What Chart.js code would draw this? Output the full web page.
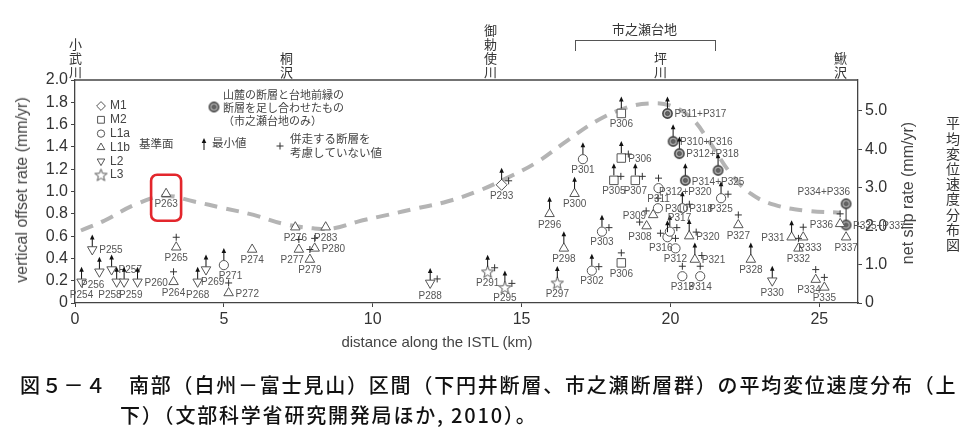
<!DOCTYPE html>
<html lang="ja">
<head>
<meta charset="UTF-8">
<title>平均変位速度分布</title>
<style>
  body { margin: 0; background: #fff; }
  #wrap { position: relative; width: 975px; height: 438px; overflow: hidden; }
  #wrap canvas { position: absolute; left: 0; top: 0; }
  .txt { position: absolute; white-space: nowrap; color: #333; }
  .en { font-family: "Liberation Sans", Arial, sans-serif; font-size: 16px; color: #444; }
  .jp { font-family: "Noto Sans CJK JP", sans-serif; }
  .vt { writing-mode: vertical-rl; font-size: 13px; letter-spacing: 1px; line-height: 13px; }
  .cap { font-size: 20px; letter-spacing: 1.8px; line-height: 26px; font-weight: 500; color: #111; }
  #bracket { position: absolute; left: 575px; top: 40px; width: 139px; height: 10px;
             border: 1px solid #555; border-bottom: none; }
</style>
</head>
<body>
<div id="wrap">
  <canvas id="rateChart"></canvas>

  <div class="txt jp vt" style="left:69px; top:38px">小武川</div>
  <div class="txt jp vt" style="left:280px; top:52px">桐沢</div>
  <div class="txt jp vt" style="left:484px; top:24px">御勅使川</div>
  <div class="txt jp vt" style="left:654px; top:52px">坪川</div>
  <div class="txt jp vt" style="left:834px; top:52px">鰍沢</div>
  <div class="txt jp" style="left:612px; top:19px; font-size:13px">市之瀬台地</div>
  <div id="bracket"></div>

  <div class="txt en" style="left:22px; top:190px; transform:translate(-50%,-50%) rotate(-90deg)">vertical offset rate (mm/yr)</div>
  <div class="txt en" style="left:908px; top:193px; transform:translate(-50%,-50%) rotate(-90deg)">net slip rate (mm/yr)</div>
  <div class="txt en" style="left:437px; top:341px; font-size:15px; transform:translate(-50%,-50%)">distance along the ISTL (km)</div>
  <div class="txt jp vt" style="left:946px; top:116px; font-size:14px; letter-spacing:1.2px; line-height:14px">平均変位速度分布図</div>

  <div class="txt jp cap" style="left:20px; top:372px">図５－４　南部（白州－富士見山）区間（下円井断層、市之瀬断層群）の平均変位速度分布（上</div>
  <div class="txt jp cap" style="left:120px; top:402px">下）（文部科学省研究開発局ほか, 2010）。</div>
</div>

<script src="https://cdn.jsdelivr.net/npm/chart.js"></script>
<script>
// survey sites (distance km, vertical offset rate mm/yr)
const sites = ['P254','P255','P256','P257','P258','P259','P260','P263','P264','P265',
  'P268','P269','P271','P272','P274','P276','P277','P279','P280','P283',
  'P288','P291','P293','P295','P296','P297','P298','P300','P301','P302',
  'P303','P305','P306','P306','P306','P307','P308','P309','P310','P311',
  'P312','P313','P314','P316','P317','P318','P320','P321','P325','P327',
  'P328','P330','P331','P332','P333','P334','P335','P336','P337'];
const dist = [0.22,0.58,0.82,1.23,1.40,1.65,2.10,3.06,3.31,3.40,
  4.12,4.40,5.00,5.16,5.95,7.40,7.52,7.89,8.05,8.42,
  11.93,13.86,14.33,14.44,15.94,16.20,16.42,16.78,17.06,17.36,
  17.70,18.10,18.35,18.35,18.35,18.82,19.20,19.42,19.58,19.60,
  20.17,20.40,21.00,19.90,19.98,20.40,20.63,20.82,21.70,22.28,
  22.70,23.42,24.07,24.30,24.46,24.88,25.17,25.70,25.90];
const rate = [0.19,0.48,0.28,0.30,0.19,0.19,0.19,0.98,0.19,0.50,
  0.19,0.30,0.34,0.09,0.48,0.68,0.48,0.39,0.49,0.68,
  0.18,0.28,1.06,0.14,0.80,0.18,0.49,0.98,1.29,0.29,
  0.64,1.10,1.70,1.30,0.36,1.10,0.69,0.79,0.85,1.03,
  0.49,0.24,0.24,0.59,0.64,0.85,0.60,0.39,0.94,0.70,
  0.39,0.20,0.59,0.49,0.59,0.21,0.14,0.71,0.59];
const surf = ['L2','L2','L2','L2','L2','L2','L2','L1b','L1b','L1b',
  'L2','L2','L1a','L1b','L1b','L1b','L1b','L1b','L1b','L1b',
  'L2','L3','M1','L3','L1b','L3','L1b','L1b','L1a','L1a',
  'L1a','M2','M2','M2','M2','M2','L1b','L1b','L1a','L1a',
  'L1a','L1a','L1a','L1a','L1a','L1a','L1b','L1b','L1a','L1b',
  'L1b','L2','L1b','L1b','L1b','L1b','L1b','L1b','L1b'];
// 1 = minimum value (arrow)
const minVal = [1,1,1,1,1,1,1,0,0,0,
  1,1,1,0,0,0,0,0,0,0,
  1,1,1,1,1,1,1,1,1,1,
  1,1,1,1,0,1,0,0,0,0,
  0,0,0,1,1,1,1,1,1,0,
  1,1,1,0,0,0,0,0,0];
// parallel fault not considered (+), and where the + sits
const plusAt = ['','','','','','','','','a','a',
  '','','','a','','','a','a','a','',
  'r','r','r','r','','','','','','r',
  'r','r','','r','a','r','l','l','a','a',
  'a','a','a','l','r','r','r','r','r','a',
  '','','','a','a','a','a','a',''];
const labelAt = ['b','r','bl','r','bl','br','r','b','b','b',
  'b','br','br','r','b','b','bl','b','r','b',
  'b','b','b','b','b','b','b','b','b','b',
  'b','b','b','r','b','b','bl','l','r','b',
  'b','b','b','bl','a','r','r','r','b','b',
  'b','b','l','b','br','bl','b','l','b'];

// summed piedmont + terrace-front faults (Ichinose upland only)
const comboSites = ['P311+P317','P310+P316','P312+P318','P312+P320','P314+P325','P334+P336','P335+P337'];
const comboDist = [19.90,20.09,20.30,20.50,21.60,25.90,25.90];
const comboRate = [1.70,1.45,1.34,1.10,1.19,0.89,0.70];
const comboMin = [1,1,1,1,1,0,0];
const comboLabelAt = ['r','r','r','b','b','al','r'];

// dashed trend curve
const trendKm = [0.2,1,2,3,4,5,6,7,8,8.7,9.5,10.5,11.5,12.5,13.5,14.5,15.5,16.5,17.5,18.5,19.3,20,20.7,21.3,22,22.7,23.5,24.5,25.7];
const trendRate = [0.65,0.74,0.88,0.96,0.91,0.85,0.79,0.71,0.67,0.67,0.73,0.79,0.85,0.91,1.00,1.12,1.26,1.45,1.63,1.75,1.79,1.77,1.66,1.45,1.17,0.98,0.88,0.83,0.81];

const surfaces = ['M1','M2','L1a','L1b','L2','L3'];
const xTicks = [0,5,10,15,20,25];
const yTicks = [0,0.2,0.4,0.6,0.8,1.0,1.2,1.4,1.6,1.8,2.0];
const y2Ticks = [0,1,2,3,4,5];

Chart.defaults.font.family = '"Liberation Sans", Arial, sans-serif';

function makeStar() {
  const c = document.createElement('canvas');
  c.width = 15; c.height = 15;
  const g = c.getContext('2d');
  g.beginPath();
  for (let k = 0; k < 10; k++) {
    const r = k % 2 ? 2.7 : 6.4;
    const a = -Math.PI / 2 + k * Math.PI / 5;
    g.lineTo(7.5 + r * Math.cos(a), 8 + r * Math.sin(a));
  }
  g.closePath();
  g.fillStyle = '#fff'; g.fill();
  g.strokeStyle = '#555'; g.lineWidth = 1; g.stroke();
  return c;
}
function makeCombo() {
  const c = document.createElement('canvas');
  c.width = 13; c.height = 13;
  const g = c.getContext('2d');
  g.beginPath(); g.arc(6.5, 6.5, 4.6, 0, Math.PI * 2);
  g.fillStyle = '#b0b0b0'; g.fill();
  g.strokeStyle = '#444'; g.lineWidth = 1.6; g.stroke();
  g.beginPath(); g.arc(6.5, 6.5, 2, 0, Math.PI * 2);
  g.fillStyle = '#666'; g.fill();
  g.lineWidth = 0.8; g.stroke();
  return c;
}
const starImg = makeStar();
const comboImg = makeCombo();

const marker = {
  M1: { pointStyle: 'rectRot', radius: 5.5, rotation: 0 },
  M2: { pointStyle: 'rect', radius: 6, rotation: 0 },
  L1a: { pointStyle: 'circle', radius: 4.6, rotation: 0 },
  L1b: { pointStyle: 'triangle', radius: 5.5, rotation: 0 },
  L2: { pointStyle: 'triangle', radius: 5.5, rotation: 180 },
  L3: { pointStyle: starImg, radius: 6, rotation: 0 }
};

function drawArrow(ctx, x, yTop) {
  ctx.strokeStyle = '#111'; ctx.fillStyle = '#111'; ctx.lineWidth = 1;
  ctx.beginPath(); ctx.moveTo(x, yTop); ctx.lineTo(x, yTop - 8); ctx.stroke();
  ctx.beginPath();
  ctx.moveTo(x, yTop - 12); ctx.lineTo(x - 2.3, yTop - 7); ctx.lineTo(x + 2.3, yTop - 7);
  ctx.closePath(); ctx.fill();
}
function drawPlus(ctx, x, y) {
  ctx.strokeStyle = '#333'; ctx.lineWidth = 1;
  ctx.beginPath();
  ctx.moveTo(x - 3.5, y); ctx.lineTo(x + 3.5, y);
  ctx.moveTo(x, y - 3.5); ctx.lineTo(x, y + 3.5);
  ctx.stroke();
}
function drawLabel(ctx, text, x, y, at, drop) {
  ctx.fillStyle = '#555';
  ctx.font = '10px "Liberation Sans", Arial, sans-serif';
  const d = drop || 0;
  const spec = {
    b: ['center', 'top', 0, 6 + d], bl: ['right', 'top', 5, 6 + d], br: ['left', 'top', -5, 6 + d],
    r: ['left', 'middle', 7, 1], l: ['right', 'middle', -7, 1],
    a: ['left', 'bottom', -2, -8], al: ['right', 'bottom', 4, -7]
  }[at];
  ctx.textAlign = spec[0]; ctx.textBaseline = spec[1];
  ctx.fillText(text, x + spec[2], y + spec[3]);
}
function drawMarker(ctx, s, x, y, scale) {
  const m = marker[s];
  ctx.fillStyle = '#fff'; ctx.strokeStyle = '#555'; ctx.lineWidth = 1;
  Chart.helpers.drawPoint(ctx, { pointStyle: m.pointStyle, rotation: m.rotation, radius: m.radius * scale, borderWidth: 1 }, x, y);
}

const plusOffset = { a: [0, -10], r: [7, -4], l: [-7, -4] };

const decorations = {
  id: 'decorations',
  afterDatasetsDraw(chart) {
    const { ctx, chartArea: a, scales: { x, y } } = chart;
    ctx.save();
    ctx.strokeStyle = '#444'; ctx.lineWidth = 1.3;
    ctx.beginPath(); ctx.moveTo(a.left, a.top); ctx.lineTo(a.right, a.top); ctx.stroke();

    sites.forEach((s, i) => {
      const px = x.getPixelForValue(dist[i]);
      const py = y.getPixelForValue(rate[i]);
      const top = surf[i] === 'L2' ? 3 : 5;
      if (minVal[i]) drawArrow(ctx, px, py - top);
      if (plusAt[i]) {
        const o = plusOffset[plusAt[i]];
        drawPlus(ctx, px + o[0], py + o[1]);
      }
      drawLabel(ctx, s, px, py, labelAt[i], surf[i] === 'L2' ? 2 : 0);
    });
    comboSites.forEach((s, i) => {
      const px = x.getPixelForValue(comboDist[i]);
      const py = y.getPixelForValue(comboRate[i]);
      if (comboMin[i]) drawArrow(ctx, px, py - 5);
      drawLabel(ctx, s, px, py, comboLabelAt[i], 1);
    });

    // highlight box round P263
    const k = sites.indexOf('P263');
    const hx = x.getPixelForValue(dist[k]), hy = y.getPixelForValue(rate[k]);
    ctx.strokeStyle = '#e3262c'; ctx.lineWidth = 2.6;
    ctx.beginPath(); ctx.roundRect(hx - 15, hy - 19, 30, 46, 6); ctx.stroke();

    // legend
    ctx.textAlign = 'left'; ctx.textBaseline = 'middle';
    surfaces.forEach((s, j) => {
      const ly = 106 + j * 13.8;
      drawMarker(ctx, s, 101, ly, 0.8);
      ctx.fillStyle = '#444';
      ctx.font = '12px "Liberation Sans", Arial, sans-serif';
      ctx.fillText(s, 110, ly);
    });
    ctx.fillStyle = '#444';
    ctx.font = '11.5px "Noto Sans CJK JP", sans-serif';
    ctx.fillText('基準面', 139, 144);
    drawArrow(ctx, 204, 150);
    ctx.fillStyle = '#444';
    ctx.fillText('最小値', 212, 143);
    drawPlus(ctx, 280, 146);
    ctx.fillStyle = '#444';
    ctx.fillText('併走する断層を', 290, 139);
    ctx.fillText('考慮していない値', 290, 153);
    ctx.drawImage(comboImg, 214 - 6.5, 107 - 6.5);
    ctx.font = '11px "Noto Sans CJK JP", sans-serif';
    ctx.fillText('山麓の断層と台地前縁の', 223, 95);
    ctx.fillText('断層を足し合わせたもの', 223, 108);
    ctx.fillText('（市之瀬台地のみ）', 223, 121);
    ctx.restore();
  }
};

const pointSets = surfaces.map(s => ({
  type: 'scatter',
  label: s,
  data: sites.map((p, i) => surf[i] === s ? { x: dist[i], y: rate[i] } : null).filter(Boolean),
  pointStyle: marker[s].pointStyle,
  pointRadius: marker[s].radius,
  pointRotation: marker[s].rotation,
  pointBackgroundColor: '#fff',
  pointBorderColor: '#555',
  pointBorderWidth: 1,
  clip: false,
  order: 0
}));

const link = [comboSites.indexOf('P334+P336'), comboSites.indexOf('P335+P337')];

const datasets = [
  ...pointSets,
  {
    type: 'scatter',
    label: 'combined',
    data: comboSites.map((s, i) => ({ x: comboDist[i], y: comboRate[i] })),
    pointStyle: comboImg,
    pointRadius: 5,
    clip: false,
    order: 0
  },
  {
    type: 'line',
    label: 'link',
    data: link.map(i => ({ x: comboDist[i], y: comboRate[i] })),
    borderColor: '#555',
    borderWidth: 1.2,
    pointRadius: 0,
    order: 1
  },
  {
    type: 'line',
    label: 'trend',
    data: trendKm.map((v, i) => ({ x: v, y: trendRate[i] })),
    borderColor: '#b4b4b4',
    borderWidth: 4,
    borderDash: [13, 9],
    tension: 0.4,
    pointRadius: 0,
    fill: false,
    order: 2
  }
];

const tickFmt = v => v === 0 ? '0' : v.toFixed(1);

new Chart(document.getElementById('rateChart'), {
  type: 'scatter',
  data: { datasets },
  options: {
    responsive: true,
    maintainAspectRatio: false,
    animation: false,
    events: [],
    layout: { padding: { top: 80, left: 0, right: 0, bottom: 0 } },
    plugins: { legend: { display: false }, tooltip: { enabled: false } },
    scales: {
      x: {
        type: 'linear', min: 0, max: 26.3,
        afterBuildTicks: s => { s.ticks = xTicks.map(v => ({ value: v })); },
        afterFit: s => { s.height = 135; },
        ticks: { color: '#333', font: { size: 16 }, padding: 3, maxRotation: 0 },
        grid: { drawOnChartArea: false, tickLength: 4, color: '#444' },
        border: { color: '#444', width: 1.3 }
      },
      y: {
        position: 'left', min: 0, max: 2.0,
        afterBuildTicks: s => { s.ticks = yTicks.map(v => ({ value: v })); },
        afterFit: s => { s.width = 75; },
        ticks: { color: '#333', font: { size: 16 }, padding: 3, callback: tickFmt },
        grid: { drawOnChartArea: false, tickLength: 4, color: '#444' },
        border: { color: '#444', width: 1.3 }
      },
      y2: {
        position: 'right', min: 0, max: 5.8,
        afterBuildTicks: s => { s.ticks = y2Ticks.map(v => ({ value: v })); },
        afterFit: s => { s.width = 117; },
        ticks: { color: '#333', font: { size: 16 }, padding: 3, callback: tickFmt },
        grid: { drawOnChartArea: false, tickLength: 4, color: '#444' },
        border: { color: '#444', width: 1.3 }
      }
    }
  },
  plugins: [decorations]
});
</script>
</body>
</html>
